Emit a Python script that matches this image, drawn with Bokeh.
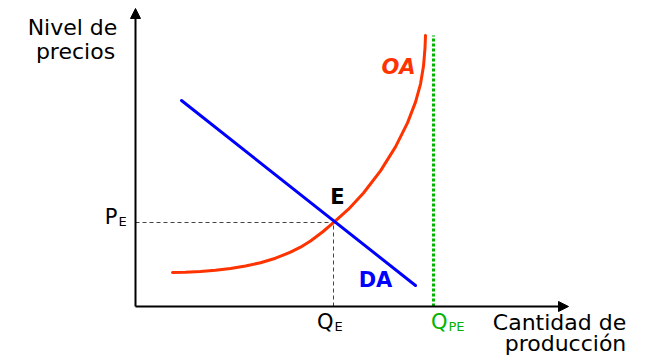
from bokeh.plotting import figure
from bokeh.models import Range1d, Arrow, NormalHead
from bokeh.core.properties import value
from bokeh.embed import file_html
from bokeh.resources import INLINE

# Economic model values (arbitrary units)
oa_q = [3.70, 5.00, 6.50, 8.00, 9.50, 11.00, 12.50, 14.00, 15.50, 16.50, 17.50, 18.70,
        19.80, 21.30, 22.80, 24.50, 26.00, 27.20, 28.00, 28.50, 28.80, 28.95, 29.00]
oa_p = [3.40, 3.43, 3.50, 3.62, 3.80, 4.05, 4.38, 4.83, 5.43, 5.93, 6.55, 7.45,
        8.38, 9.73, 11.35, 13.56, 15.96, 18.36, 20.44, 22.24, 24.04, 25.84, 27.09]
da_q = [4.6, 28.0]
da_p = [20.6, 2.1]
QE = 19.8
PE = 8.4
QPE = 29.8
QPE_TOP = 27.1
X_AXIS_END = 43.3
Y_AXIS_END = 29.8

FONT = value("DejaVu Sans")

p = figure(width=640, height=360, output_backend="svg", toolbar_location=None,
           x_range=Range1d(-13.5, 50.5), y_range=Range1d(-5.4, 30.6),
           min_border=0, outline_line_color=None)
p.axis.visible = False
p.grid.visible = False
p.background_fill_color = "white"

# axes with arrows
p.add_layout(Arrow(end=NormalHead(size=10, fill_color="black", line_color="black"),
                   x_start=0, y_start=0, x_end=0, y_end=Y_AXIS_END,
                   line_width=2, line_color="black"))
p.add_layout(Arrow(end=NormalHead(size=10, fill_color="black", line_color="black"),
                   x_start=0, y_start=0, x_end=X_AXIS_END, y_end=0,
                   line_width=2, line_color="black"))

# dashed guides
p.line([0, QE], [PE, PE], line_color="#444444", line_width=1, line_dash="4 3")
p.line([QE, QE], [0, PE], line_color="#444444", line_width=1, line_dash="4 3")

# potential output
p.line([QPE, QPE], [0, QPE_TOP], line_color="#00B400", line_width=3, line_dash="3 2")

# curves
p.line(oa_q, oa_p, line_color="#FF3300", line_width=3, line_join="round", line_cap="round")
p.line(da_q, da_p, line_color="#0000FF", line_width=3, line_cap="round")

# labels
p.text(x=[-6.3, -6.0], y=[26.7, 24.3], text=["Nivel de", "precios"],
       text_font=FONT, text_font_size="22px", text_align="center", text_color="black")
p.text(x=[42.4, 43.0], y=[-2.8, -4.9], text=["Cantidad de", "producción"],
       text_font=FONT, text_font_size="22px", text_align="center", text_color="black")

p.text(x=[QE + 0.4], y=[PE + 1.4], text=["E"], text_font=FONT, text_font_size="21px",
       text_font_style="bold", text_align="center", text_color="black")
p.text(x=[26.3], y=[22.8], text=["OA"], text_font=FONT, text_font_size="21px",
       text_font_style="bold italic", text_align="center", text_color="#FF3300")
p.text(x=[24.0], y=[1.5], text=["DA"], text_font=FONT, text_font_size="21px",
       text_font_style="bold", text_align="center", text_color="#0000FF")

# P_E
p.text(x=[-1.8], y=[PE - 0.6], text=["P"], text_font=FONT, text_font_size="21px",
       text_align="right", text_color="black")
p.text(x=[-1.7], y=[PE - 0.6], text=["E"], text_font=FONT, text_font_size="13px",
       text_align="left", text_color="black")

# Q_E
p.text(x=[QE], y=[-2.7], text=["Q"], text_font=FONT, text_font_size="21px",
       text_align="right", text_color="black")
p.text(x=[QE + 0.1], y=[-2.7], text=["E"], text_font=FONT, text_font_size="13px",
       text_align="left", text_color="black")

# Q_PE
p.text(x=[QPE + 1.4], y=[-2.7], text=["Q"], text_font=FONT, text_font_size="21px",
       text_align="right", text_color="#00B400")
p.text(x=[QPE + 1.5], y=[-2.7], text=["PE"], text_font=FONT, text_font_size="13px",
       text_align="left", text_color="#00B400")

open("out.html", "w").write(file_html(p, INLINE))
